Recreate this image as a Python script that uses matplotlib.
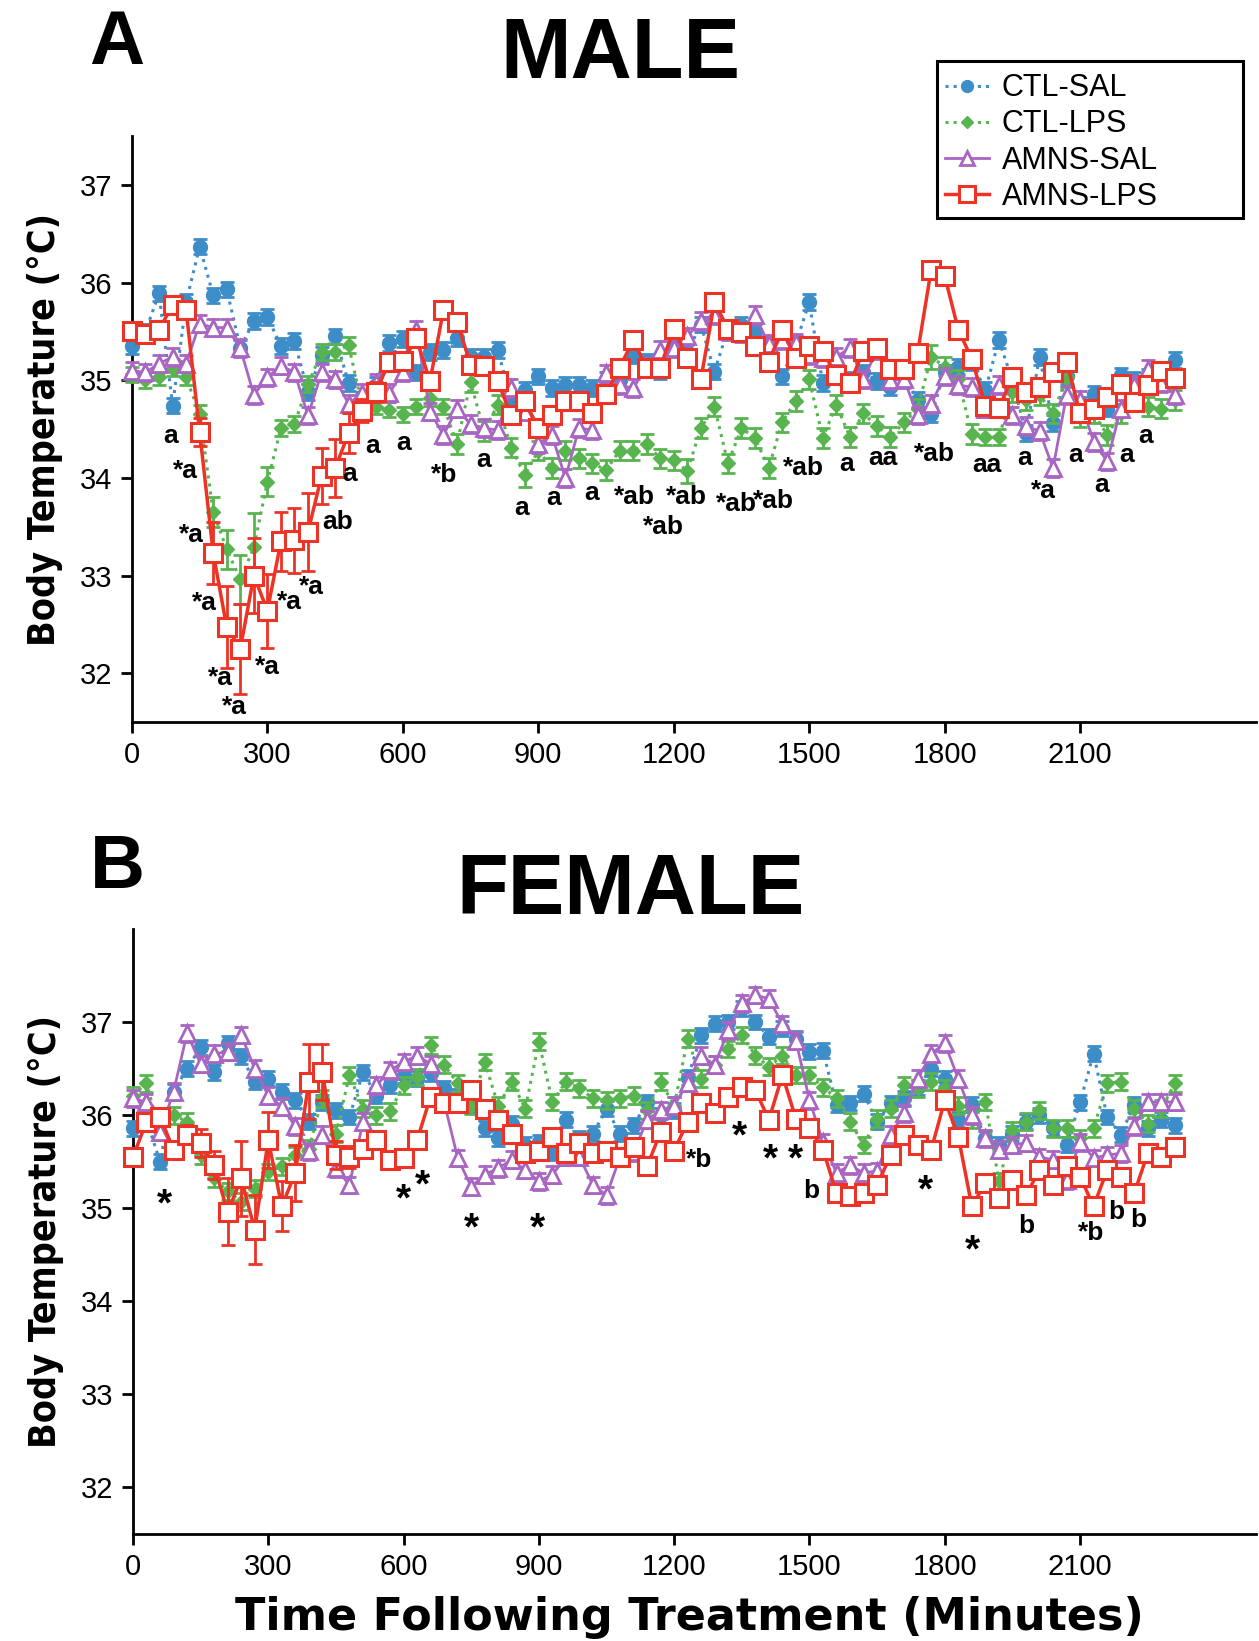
import matplotlib
matplotlib.use('Agg')
import matplotlib.pyplot as plt
import matplotlib.font_manager as fm
from matplotlib.patches import Rectangle
from matplotlib.lines import Line2D

# ---------------- data ----------------
times = list(range(0, 2311, 30))
xticks = [0, 300, 600, 900, 1200, 1500, 1800, 2100]
yticks = [32, 33, 34, 35, 36, 37]
series_names = ['CTL-SAL', 'CTL-LPS', 'AMNS-SAL', 'AMNS-LPS']

male_ctl_sal = [35.35, 35.50, 35.89, 34.74, 35.80, 36.37, 35.87, 35.93, 35.33, 35.61, 35.65, 35.35, 35.40, 34.88, 35.26, 35.45, 34.97, 34.80, 34.95, 35.38, 35.42,
                35.08, 35.29, 35.31, 35.43, 35.24, 35.24, 35.31, 34.80, 34.90, 35.04, 34.92, 34.95, 34.95, 34.92, 35.00, 35.00, 35.26, 35.19, 35.09, 35.36,
                35.29, 35.57, 35.09, 35.52, 35.57, 35.50, 35.37, 35.04, 35.37, 35.80, 34.97, 35.17, 35.01, 35.08, 34.99, 34.93, 35.04, 34.80, 34.65, 35.08,
                35.14, 35.19, 34.90, 35.41, 35.00, 34.46, 35.24, 34.56, 35.04, 34.75, 34.86, 34.71, 35.05, 35.00, 35.04, 35.09, 35.21]
male_ctl_lps = [35.06, 35.00, 35.03, 35.12, 35.03, 34.65, 33.65, 33.27, 32.96, 33.29, 33.96, 34.51, 34.55, 34.96, 35.29, 35.29, 35.36, 34.73, 34.73, 34.70, 34.65,
                34.73, 34.82, 34.73, 34.35, 34.98, 34.48, 34.75, 34.31, 34.03, 34.28, 34.10, 34.28, 34.20, 34.15, 34.08, 34.28, 34.28, 34.35, 34.20, 34.18,
                34.07, 34.51, 34.73, 34.15, 34.51, 34.41, 34.10, 34.57, 34.79, 35.01, 34.41, 34.75, 34.42, 34.66, 34.53, 34.42, 34.57, 34.71, 35.24, 35.14,
                35.01, 34.45, 34.42, 34.42, 34.88, 34.80, 34.85, 34.66, 35.03, 34.62, 34.66, 34.44, 34.66, 34.80, 34.73, 34.71, 34.80]
male_amns_sal = [35.10, 35.08, 35.17, 35.24, 35.17, 35.58, 35.54, 35.54, 35.33, 34.85, 35.03, 35.15, 35.08, 34.64, 35.08, 35.01, 34.76, 34.87, 34.97, 34.87, 35.08,
                 35.52, 34.68, 34.44, 34.71, 34.55, 34.51, 34.49, 34.92, 34.68, 34.35, 34.44, 34.00, 34.51, 34.49, 35.07, 34.95, 34.92, 35.14, 35.31, 35.33,
                 35.45, 35.61, 35.67, 35.50, 35.48, 35.67, 35.37, 35.41, 35.38, 35.26, 35.23, 35.24, 35.33, 35.01, 35.31, 35.00, 35.01, 34.64, 34.76, 35.04,
                 34.95, 34.93, 34.71, 34.95, 34.64, 34.53, 34.48, 34.10, 34.85, 34.80, 34.37, 34.17, 34.71, 34.95, 35.12, 34.97, 34.85]
male_amns_lps = [35.50, 35.47, 35.52, 35.77, 35.72, 34.47, 33.23, 32.47, 32.25, 33.00, 32.64, 33.35, 33.36, 33.45, 34.02, 34.10, 34.46, 34.69, 34.88, 35.19, 35.20,
                 35.43, 34.99, 35.72, 35.60, 35.16, 35.15, 34.99, 34.64, 34.79, 34.51, 34.64, 34.79, 34.79, 34.67, 34.86, 35.13, 35.41, 35.13, 35.13, 35.53,
                 35.23, 35.01, 35.80, 35.53, 35.49, 35.35, 35.19, 35.52, 35.23, 35.35, 35.30, 35.05, 34.97, 35.30, 35.33, 35.12, 35.12, 35.28, 36.13, 36.07,
                 35.52, 35.22, 34.74, 34.72, 35.03, 34.88, 34.93, 35.08, 35.19, 34.66, 34.71, 34.83, 34.96, 34.78, 34.95, 35.10, 35.02]

male_ctl_sal_err = 0.08
male_ctl_lps_err = [0.08, 0.08, 0.08, 0.08, 0.08, 0.10, 0.15, 0.20, 0.25, 0.35, 0.15, 0.08, 0.08, 0.08, 0.08, 0.08, 0.08, 0.08, 0.08, 0.08, 0.08,
                    0.08, 0.08, 0.08, 0.10, 0.10, 0.10, 0.10, 0.10, 0.12, 0.10, 0.10, 0.10, 0.10, 0.10, 0.10, 0.10, 0.10, 0.10, 0.10, 0.10,
                    0.12, 0.10, 0.10, 0.10, 0.10, 0.10, 0.10, 0.10, 0.10, 0.10, 0.10, 0.10, 0.10, 0.10, 0.10, 0.10, 0.10, 0.10, 0.12, 0.10,
                    0.10, 0.10, 0.08, 0.08, 0.10, 0.10, 0.10, 0.10, 0.10, 0.10, 0.10, 0.10, 0.10, 0.10, 0.10, 0.10, 0.10]
male_amns_sal_err = 0.09
male_amns_lps_err = [0.08, 0.08, 0.08, 0.08, 0.08, 0.14, 0.32, 0.42, 0.46, 0.38, 0.38, 0.30, 0.33, 0.40, 0.29, 0.30, 0.20, 0.12, 0.10, 0.08, 0.08,
                     0.08, 0.08, 0.08, 0.08, 0.08, 0.08, 0.08, 0.08, 0.08, 0.08, 0.08, 0.08, 0.08, 0.08, 0.08, 0.08, 0.08, 0.08, 0.08, 0.08,
                     0.08, 0.08, 0.08, 0.08, 0.08, 0.08, 0.08, 0.08, 0.08, 0.08, 0.08, 0.08, 0.08, 0.08, 0.08, 0.08, 0.08, 0.08, 0.08, 0.08,
                     0.08, 0.08, 0.08, 0.08, 0.08, 0.08, 0.08, 0.08, 0.08, 0.08, 0.08, 0.08, 0.08, 0.08, 0.08, 0.08, 0.08]

female_ctl_sal = [35.86, 35.95, 35.50, 36.25, 36.50, 36.73, 36.46, 36.77, 36.63, 36.36, 36.39, 36.25, 36.16, 35.93, 36.14, 36.05, 35.98, 36.46, 36.21, 36.32, 36.43,
                  36.39, 36.45, 36.29, 36.20, 36.10, 35.86, 35.75, 35.91, 35.68, 35.71, 35.60, 35.95, 35.75, 35.80, 36.07, 35.80, 35.89, 36.14, 36.00, 36.05,
                  36.40, 36.86, 36.98, 37.00, 37.15, 37.00, 36.84, 36.93, 36.82, 36.68, 36.69, 36.11, 36.13, 36.23, 35.93, 36.13, 36.18, 36.30, 36.50, 36.39,
                  35.95, 36.11, 35.75, 35.68, 35.80, 35.93, 36.00, 35.86, 35.68, 36.14, 36.66, 35.98, 35.79, 36.11, 35.86, 35.95, 35.89]
female_ctl_lps = [36.21, 36.34, 35.82, 36.00, 35.93, 35.57, 35.32, 35.18, 35.07, 35.21, 35.39, 35.45, 35.57, 35.64, 36.18, 35.80, 36.43, 36.07, 36.00, 36.04, 36.32,
                  36.41, 36.75, 36.54, 36.34, 36.10, 36.57, 36.10, 36.36, 36.07, 36.79, 36.14, 36.36, 36.29, 36.18, 36.16, 36.18, 36.21, 36.05, 36.36, 36.10,
                  36.82, 36.39, 36.54, 36.71, 36.86, 36.64, 36.52, 36.64, 36.43, 36.43, 36.30, 36.18, 35.93, 35.68, 35.96, 36.07, 36.32, 36.29, 36.36, 36.29,
                  36.10, 35.95, 36.14, 35.29, 35.84, 35.93, 36.05, 35.86, 35.86, 35.75, 35.86, 36.34, 36.36, 36.07, 35.91, 36.07, 36.34]
female_amns_sal = [36.18, 36.14, 35.82, 36.25, 36.88, 36.55, 36.66, 36.68, 36.86, 36.50, 36.21, 36.09, 35.88, 35.61, 35.79, 35.43, 35.25, 35.93, 36.32, 36.48, 36.57,
                   36.64, 36.55, 36.14, 35.54, 35.23, 35.36, 35.43, 35.52, 35.41, 35.29, 35.36, 35.55, 35.55, 35.25, 35.14, 35.55, 35.60, 35.95, 36.05, 36.10,
                   36.35, 36.64, 36.54, 36.91, 37.20, 37.29, 37.25, 36.98, 36.80, 36.16, 35.71, 35.38, 35.46, 35.38, 35.40, 35.79, 36.02, 36.39, 36.66, 36.77,
                   36.39, 36.00, 35.75, 35.63, 35.68, 35.70, 35.55, 35.52, 35.30, 35.71, 35.54, 35.57, 35.59, 35.88, 36.14, 36.14, 36.14]
female_amns_lps = [35.55, 35.93, 35.98, 35.63, 35.79, 35.70, 35.46, 34.96, 35.32, 34.77, 35.73, 35.02, 35.38, 36.36, 36.46, 35.57, 35.55, 35.64, 35.73, 35.52, 35.54,
                   35.73, 36.20, 36.13, 36.13, 36.27, 36.07, 35.95, 35.80, 35.59, 35.61, 35.77, 35.59, 35.70, 35.59, 35.61, 35.55, 35.66, 35.45, 35.82, 35.62,
                   35.93, 36.13, 36.02, 36.19, 36.30, 36.27, 35.95, 36.43, 35.96, 35.86, 35.63, 35.16, 35.13, 35.16, 35.25, 35.57, 35.79, 35.68, 35.63, 36.16,
                   35.77, 35.02, 35.27, 35.11, 35.30, 35.14, 35.41, 35.25, 35.45, 35.34, 35.02, 35.41, 35.34, 35.16, 35.59, 35.55, 35.66]

female_ctl_sal_err = 0.08
female_ctl_lps_err = 0.09
female_amns_sal_err = 0.09
female_amns_lps_err = [0.10, 0.08, 0.10, 0.08, 0.10, 0.15, 0.15, 0.36, 0.40, 0.37, 0.30, 0.27, 0.30, 0.40, 0.30, 0.15, 0.12, 0.08, 0.08, 0.08, 0.08,
                       0.08, 0.08, 0.08, 0.08, 0.08, 0.08, 0.08, 0.08, 0.08, 0.08, 0.08, 0.08, 0.08, 0.08, 0.08, 0.08, 0.08, 0.08, 0.08, 0.08,
                       0.08, 0.08, 0.08, 0.08, 0.08, 0.08, 0.08, 0.08, 0.08, 0.08, 0.08, 0.08, 0.08, 0.08, 0.08, 0.08, 0.08, 0.08, 0.08, 0.08,
                       0.08, 0.08, 0.08, 0.08, 0.08, 0.08, 0.08, 0.08, 0.08, 0.08, 0.08, 0.08, 0.08, 0.08, 0.08, 0.08, 0.08]

male_label_text = ['a', '*a', '*a', '*a', '*a', '*a', '*a', '*a', '*a', 'ab', 'a', 'a', 'a', '*b', 'a', 'a', 'a', 'a',
                   '*ab', '*ab', '*ab', '*ab', '*ab', '*ab', 'a', 'aa', '*ab', 'aa', 'a', '*a', 'a', 'a', 'a', 'a']
male_label_x = [86, 118, 132, 160, 195, 227, 300, 348, 397, 455, 483, 534, 601, 692, 778, 864, 933, 1019,
                1112, 1228, 1177, 1339, 1421, 1488, 1583, 1664, 1778, 1894, 1978, 2019, 2089, 2147, 2203, 2245]
male_label_y = [34.43, 34.07, 33.42, 32.72, 31.95, 31.65, 32.06, 32.73, 32.88, 33.55, 34.04, 34.33, 34.36, 34.03, 34.18, 33.69, 33.79, 33.85,
                33.80, 33.80, 33.50, 33.73, 33.76, 34.10, 34.14, 34.20, 34.25, 34.13, 34.20, 33.87, 34.23, 33.93, 34.23, 34.43]

female_label_text = ['*', '*', '*', '*', '*', '*b', '*', '*', '*', 'b', '*', '*', 'b', '*b', 'b', 'b']
female_label_x = [70, 599, 641, 750, 896, 1256, 1344, 1414, 1469, 1504, 1757, 1862, 1980, 2124, 2180, 2228]
female_label_y = [35.15, 35.20, 35.35, 34.89, 34.89, 35.52, 35.88, 35.63, 35.63, 35.18, 35.30, 34.66, 34.81, 34.73, 34.96, 34.87]

# ---------------- style ----------------
names = {f.name for f in fm.fontManager.ttflist}
ARIAL = 'Liberation Sans' if 'Liberation Sans' in names else 'DejaVu Sans'
cond = [f for f in fm.fontManager.ttflist if f.name == 'DejaVu Sans' and f.stretch == 'condensed']
if cond:
    YL = dict(family='DejaVu Sans', fontstretch='condensed', fontsize=27)
elif 'Liberation Sans Narrow' in names:
    YL = dict(family='Liberation Sans Narrow', fontsize=33)
else:
    YL = dict(family='DejaVu Sans', fontsize=24)

styles = {
    'CTL-SAL': dict(color='#3d8dc8', marker='o', ms=10, mfc='#3d8dc8', mec='#3d8dc8', ls=':', lw=2.2, mew=1),
    'CTL-LPS': dict(color='#58b44f', marker='D', ms=7.5, mfc='#58b44f', mec='#58b44f', ls=':', lw=2.2, mew=1),
    'AMNS-SAL': dict(color='#a866c2', marker='^', ms=12, mfc='white', mec='#a866c2', ls='-', lw=2, mew=2),
    'AMNS-LPS': dict(color='#ec3326', marker='s', ms=13, mfc='white', mec='#ec3326', ls='-', lw=2.5, mew=2.2),
}

fig = plt.figure(figsize=(12.59, 16.41), dpi=100)
axA = fig.add_axes([0.1048, 0.560, 0.893, 0.357])
axB = fig.add_axes([0.1056, 0.0652, 0.892, 0.3687])


def draw(ax, data, errs, ylim):
    for k, name in enumerate(series_names):
        st = styles[name]
        ax.errorbar(times, data[k], yerr=errs[k], fmt='none', ecolor=st['color'], elinewidth=2,
                    capsize=5, capthick=2, zorder=3 + 2 * k, clip_on=False)
        ax.plot(times, data[k], color=st['color'], ls=st['ls'], lw=st['lw'], marker=st['marker'],
                ms=st['ms'], mfc=st['mfc'], mec=st['mec'], mew=st['mew'], zorder=4 + 2 * k, clip_on=False)
    ax.set_xlim(0, 2490)
    ax.set_ylim(*ylim)
    ax.set_xticks(xticks)
    ax.set_yticks(yticks)
    for s in ['top', 'right']:
        ax.spines[s].set_visible(False)
    for s in ['left', 'bottom']:
        ax.spines[s].set_linewidth(2)
    ax.tick_params(direction='out', length=8, width=2, labelsize=21, pad=6)
    for lab in ax.get_xticklabels() + ax.get_yticklabels():
        lab.set_family(ARIAL)
    ax.set_ylabel('Body Temperature (°C)', fontweight='bold', labelpad=12, **YL)


draw(axA, [male_ctl_sal, male_ctl_lps, male_amns_sal, male_amns_lps],
     [male_ctl_sal_err, male_ctl_lps_err, male_amns_sal_err, male_amns_lps_err], (31.5, 37.5))
draw(axB, [female_ctl_sal, female_ctl_lps, female_amns_sal, female_amns_lps],
     [female_ctl_sal_err, female_ctl_lps_err, female_amns_sal_err, female_amns_lps_err], (31.5, 38.0))

for t, x, y in zip(male_label_text, male_label_x, male_label_y):
    axA.text(x, y, t, ha='center', va='center', fontsize=19, fontweight='bold', family=ARIAL, zorder=20)
for t, x, y in zip(female_label_text, female_label_x, female_label_y):
    if t == '*':
        axB.text(x, y - 0.12, t, ha='center', va='center', fontsize=28, fontweight='bold', family=ARIAL, zorder=20)
    else:
        axB.text(x, y, t, ha='center', va='center', fontsize=19, fontweight='bold', family=ARIAL, zorder=20)

# titles and panel letters
fig.text(0.093, 0.973, 'A', ha='center', va='center', fontsize=55, fontweight='bold', family=ARIAL)
fig.text(0.093, 0.471, 'B', ha='center', va='center', fontsize=55, fontweight='bold', family=ARIAL)
fig.text(0.4926, 0.966, 'MALE', ha='center', va='center', fontsize=61, fontweight='bold', family=ARIAL)
fig.text(0.5004, 0.4565, 'FEMALE', ha='center', va='center', fontsize=61, fontweight='bold', family=ARIAL)
fig.text(0.548, 0.0146, 'Time Following Treatment (Minutes)', ha='center', va='center',
         fontsize=32, fontweight='bold', family='DejaVu Sans')

# legend
handles = [Line2D([], [], color=styles[n]['color'], ls=styles[n]['ls'], lw=styles[n]['lw'],
                  marker=styles[n]['marker'], ms=styles[n]['ms'] * 0.85, mfc=styles[n]['mfc'],
                  mec=styles[n]['mec'], mew=styles[n]['mew']) for n in series_names]
leg = fig.legend(handles, series_names, loc='upper left', bbox_to_anchor=(0.736, 0.9665),
                 frameon=False, prop={'family': ARIAL, 'size': 22}, handlelength=1.45,
                 handletextpad=0.4, labelspacing=0.2, borderpad=0.1)
fig.patches.append(Rectangle((0.744, 0.867), 0.243, 0.096, transform=fig.transFigure,
                             fill=False, edgecolor='black', lw=2.2))

fig.savefig('out.png', dpi=100)
